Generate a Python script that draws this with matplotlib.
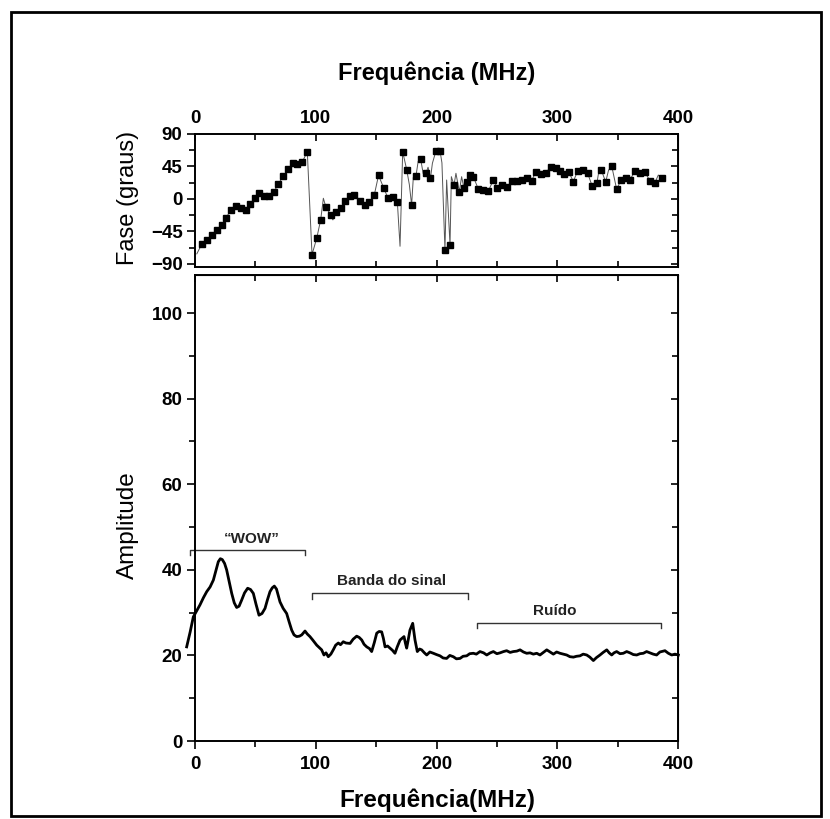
import matplotlib
matplotlib.use("Agg")
import matplotlib.pyplot as plt
from matplotlib.patches import Rectangle
from matplotlib.ticker import MultipleLocator

plt.rcParams['font.family'] = ['Liberation Sans', 'DejaVu Sans']

# ---------------- data ----------------
amp_freq = [-6.9, -4, -1.4, 1.5, 4.1, 7, 9.7, 12.5, 15.2, 17.5, 19.3, 21, 22.6, 24.5, 26.2,
            28.5, 30.4, 32.5, 34.5, 36.5, 38.6, 41, 43.6, 46, 48.3, 50.5, 53, 55.5, 58, 60,
            62.1, 64, 65.7, 67.5, 70.4, 73, 75.9, 78, 80.1, 82, 84.2, 86.5, 88.4, 91.1, 93,
            95.2, 97.5, 100.8, 103, 104.9, 106.8, 108.5, 110.4, 112.5, 114.5, 116.5, 118.7,
            120.5, 122.8, 125, 128.4, 131, 133.9, 136, 138.1, 140, 142.2, 144.5, 146.3, 148.5,
            150.5, 152.5, 154.6, 156, 157.4, 159.5, 161.5, 163.5, 165.6, 167.5, 169.8, 171.5,
            173.1, 174.3, 175.3, 176.5, 178, 180.3, 182.2, 184.1, 186, 187.7, 190, 191.9,
            194.5, 197.4, 200, 202.9, 205.5, 208.4, 211, 213.9, 216.5, 219.5, 222, 225, 227.5,
            230.5, 233, 236, 239, 241.6, 244.5, 247.1, 250, 252.6, 255.5, 258.1, 261, 263.6,
            266.5, 269.2, 272, 274.7, 277.5, 280.2, 283, 285.7, 288.5, 291.3, 294, 296.8,
            299.5, 302.3, 305, 307.8, 310.5, 313.4, 316, 318.8, 321.5, 324.4, 327, 329.9,
            332.5, 335.4, 338, 341, 343, 345.1, 347, 349.2, 352, 354.7, 357.5, 360.2, 363,
            365.8, 368.5, 371.3, 374, 376.8, 379.5, 382.3, 385, 389.2, 392, 394.8, 397.5, 400.3]
amp_vals = [22.0, 25.5, 29.0, 30.5, 31.8, 33.5, 34.9, 36.0, 37.6, 40.0, 41.9, 42.6, 42.4, 41.5, 40.0,
            37.0, 34.5, 32.3, 31.2, 31.5, 32.9, 34.6, 35.7, 35.4, 34.5, 32.0, 29.4, 29.8, 31.0, 33.0,
            34.9, 35.8, 36.2, 35.5, 32.5, 31.0, 29.8, 27.8, 25.9, 24.8, 24.4, 24.5, 24.8, 25.7, 25.0,
            24.4, 23.6, 22.4, 21.8, 21.3, 20.1, 20.6, 19.7, 20.3, 21.3, 22.4, 22.9,
            22.5, 23.2, 22.9, 22.8, 23.8, 24.5, 24.2, 23.6, 22.6, 22.0, 21.6, 20.9, 23.0,
            25.2, 25.6, 25.5, 24.0, 22.0, 22.2, 21.7, 21.2, 20.5, 22.0, 23.6, 24.0,
            24.4, 22.8, 21.7, 23.5, 25.9, 27.5, 23.6, 20.9, 21.5, 21.3, 20.6, 20.1,
            20.8, 20.5, 20.2, 19.9, 19.4, 19.3, 20.0, 19.7, 19.2, 19.3, 19.8, 19.9, 20.4,
            20.5, 20.3, 20.9, 20.6, 20.1, 20.6, 20.9, 20.4, 20.6, 20.9, 21.1, 20.7, 20.9,
            21.0, 21.3, 20.8, 20.5, 20.6, 20.3, 20.5, 20.1, 20.7, 21.3, 20.8, 20.3,
            20.8, 20.5, 20.3, 20.1, 19.7, 19.6, 19.8, 19.9, 20.3, 20.1, 19.6, 18.8,
            19.5, 20.1, 20.7, 21.3, 20.6, 20.1, 20.6, 20.9, 20.4, 20.5, 20.9, 20.6, 20.2,
            20.1, 20.4, 20.5, 20.9, 20.6, 20.3, 20.1, 20.8, 21.1, 20.5, 20.1, 20.3, 20.1]

phase_freq = [1.5, 5.5, 9.7, 13.8, 18, 22.1, 25.7, 29.6, 33.7, 37.8, 42, 45.5, 49.7, 53, 57.1,
              61.5, 65.4, 69, 73.1, 77.3, 81.4, 84.7, 88.9, 93, 96.9, 100.8, 104.1, 106.3, 108.3,
              112.4, 114.2, 116.5, 120.6, 124.5, 128.7, 131.9, 136.4, 140.4, 144.5, 148.4, 152,
              156.2, 159.8, 164.2, 167.6, 169.8, 172, 175.3, 177.5, 179.4, 180.8, 183, 184.8,
              186.9, 189, 191.3, 193, 195, 196.6, 199.6, 202.9, 204.5, 207, 208.4, 211.2, 212.3,
              214.5, 216.1, 218.9, 220.8, 222.8, 225.6, 227.7, 230.5, 234.7, 238.8, 242.9,
              247.1, 250.4, 254.5, 258.6, 262.8, 266.9, 271.1, 275.2, 278.8, 282.1, 286.3,
              290.4, 294.6, 298.7, 302.3, 305.6, 309.7, 313.3, 316.9, 321.1, 325.2, 328.8,
              332.9, 334.8, 336.5, 340.1, 342.5, 345.1, 349.2, 352.8, 356.9, 360.2, 364.4,
              368.5, 372.7, 376.8, 380.9, 383.7, 386.5]
phase_vals = [-76, -62.8, -56.8, -49.8, -42.9, -36.4, -26.3, -15.2, -9.7, -12.9, -15.2, -7.4, 1.8,
              7.9, 4.2, 4.2, 10.1, 20.8, 31.8, 41.1, 49.4, 48, 51.6, 65.5, -77, -54.4, -28.7, 1,
              -10.6, -22.2, -29, -17.6, -12.9, -3.2, 4.8, 6, -2.3, -8.3, -3.7, 5, 32.8, 15.5, 1.4,
              3.2, -4.8, -65.5, 65.5, 40.7, 20, -8.3, 30, 31.8, 52, 55, 35, 35.6, 44, 28.6, 49.4,
              66.9, 66.9, 50, -70.6, 26.3, -63.7, 30.9, 19.4, 35.6, 10.1, 30.9, 14.8, 24, 33.2,
              30.9, 13.4, 12.5, 11.1, 26.3, 15.7, 19.4, 17.1, 24.9, 25.4, 26.3, 28.6, 25.4, 37,
              34.6, 35.6, 44.8, 42.5, 39.2, 34.2, 37, 24, 39.2, 40.2, 35.6, 18.5, 22.6, 42,
              40.2, 23.5, 40, 45.7, 13.4, 26.3, 28.6, 26.3, 39.2, 35.6, 37, 24.9, 22.6, 33.2, 28.6]
# points drawn only by the thin connecting line (no visible square marker)
phase_line_only = [1.5, 106.3, 114.2, 169.8, 177.5, 180.8, 184.8, 189, 193, 196.6, 204.5,
                   208.4, 212.3, 216.1, 220.8, 334.8, 342.5, 383.7]

freq_ticks = [0, 100, 200, 300, 400]
phase_ticks = [-90, -45, 0, 45, 90]
amp_ticks = [0, 20, 40, 60, 80, 100]

band_labels = ['\u201cWOW\u201d', 'Banda do sinal', 'Ru\u00eddo']
band_start = [-4, 96.6, 233.8]
band_end = [91, 226.4, 385.7]
band_level = [44.6, 34.5, 27.5]
band_text_x = [46.8, 162.7, 298.1]
band_text_y = [47.2, 37.3, 30.3]

# ---------------- figure ----------------
W, H = 830, 819
fig = plt.figure(figsize=(W / 100, H / 100), dpi=100)

def box(l, t, r, b):
    return [l / W, 1 - b / H, (r - l) / W, (b - t) / H]

ax1 = fig.add_axes(box(195, 134, 678, 267))
ax2 = fig.add_axes(box(195, 275, 678, 741))

for ax in (ax1, ax2):
    for s in ax.spines.values():
        s.set_linewidth(1.4)
    ax.set_xlim(0, 400)

# phase panel
mk_f = [f for f in phase_freq if f not in phase_line_only]
mk_v = [v for f, v in zip(phase_freq, phase_vals) if f not in phase_line_only]
ax1.plot(phase_freq, phase_vals, color='#555555', lw=0.7, zorder=2)
ax1.plot(mk_f, mk_v, ls='none', marker='s', ms=3.8, color='black', zorder=3)
ax1.set_ylim(-94.2, 90)
ax1.set_xticks(freq_ticks)
ax1.xaxis.set_minor_locator(MultipleLocator(50))
ax1.set_yticks(phase_ticks)
ax1.yaxis.set_minor_locator(MultipleLocator(22.5))
ax1.xaxis.tick_top()
ax1.tick_params(axis='x', which='both', direction='in', top=True, bottom=True,
                labeltop=True, labelbottom=False, length=5, width=1.2, pad=5)
ax1.tick_params(axis='x', which='minor', length=4)
ax1.tick_params(axis='y', which='major', direction='out', left=True, right=False,
                length=6, width=1.2, pad=3)
ax1.tick_params(axis='y', which='minor', direction='out', left=True, right=False,
                length=4, width=1.2)
for lab in ax1.get_xticklabels() + ax1.get_yticklabels():
    lab.set_fontsize(13.5)
    lab.set_fontweight('bold')
ax1r = ax1.secondary_yaxis('right')
ax1r.set_yticks(phase_ticks)
ax1r.yaxis.set_minor_locator(MultipleLocator(22.5))
ax1r.tick_params(which='both', direction='in', length=5, width=1.2, labelright=False)
ax1r.tick_params(which='minor', length=4)

# amplitude panel
ax2.plot(amp_freq, amp_vals, color='black', lw=2.0, clip_on=False, zorder=3,
         solid_joinstyle='round')
ax2.set_ylim(0, 108.9)
ax2.set_xticks(freq_ticks)
ax2.xaxis.set_minor_locator(MultipleLocator(50))
ax2.set_yticks(amp_ticks)
ax2.yaxis.set_minor_locator(MultipleLocator(10))
ax2.tick_params(axis='x', which='both', direction='out', bottom=True, top=False,
                length=6, width=1.2, pad=5)
ax2.tick_params(axis='x', which='minor', length=4)
ax2.tick_params(axis='y', which='both', direction='out', left=True, right=False,
                length=6, width=1.2, pad=3)
ax2.tick_params(axis='y', which='minor', length=4)
for lab in ax2.get_xticklabels() + ax2.get_yticklabels():
    lab.set_fontsize(13.5)
    lab.set_fontweight('bold')
ax2t = ax2.secondary_xaxis('top')
ax2t.set_xticks(freq_ticks)
ax2t.xaxis.set_minor_locator(MultipleLocator(50))
ax2t.tick_params(which='both', direction='in', length=5, width=1.2, labeltop=False)
ax2t.tick_params(which='minor', length=4)
ax2r = ax2.secondary_yaxis('right')
ax2r.set_yticks(amp_ticks)
ax2r.yaxis.set_minor_locator(MultipleLocator(10))
ax2r.tick_params(which='both', direction='in', length=5, width=1.2, labelright=False)
ax2r.tick_params(which='minor', length=4)

# bands
for lab, x0, x1, yl, tx, ty in zip(band_labels, band_start, band_end, band_level,
                                   band_text_x, band_text_y):
    ax2.plot([x0, x0, x1, x1], [yl - 1.2, yl, yl, yl - 1.2], color='#333333', lw=1.0,
             clip_on=False)
    ax2.text(tx, ty, lab, ha='center', va='center', fontsize=11, fontweight='bold',
             color='#222222')

# labels
fig.text(437 / W, 1 - 73 / H, 'Frequência (MHz)', ha='center', va='center',
         fontsize=17, fontweight='bold')
fig.text(437 / W, 1 - 800 / H, 'Frequência(MHz)', ha='center', va='center',
         fontsize=17.5, fontweight='bold')
fig.text(128 / W, 1 - 198 / H, 'Fase (graus)', ha='center', va='center',
         rotation=90, fontsize=17)
fig.text(128 / W, 1 - 525 / H, 'Amplitude', ha='center', va='center',
         rotation=90, fontsize=17.5)

# outer border
fig.patches.append(Rectangle((11 / W, 1 - 816 / H), (821 - 11) / W, (816 - 12) / H,
                             transform=fig.transFigure, fill=False, lw=2.0,
                             edgecolor='black'))

fig.savefig('out.png', dpi=100)
